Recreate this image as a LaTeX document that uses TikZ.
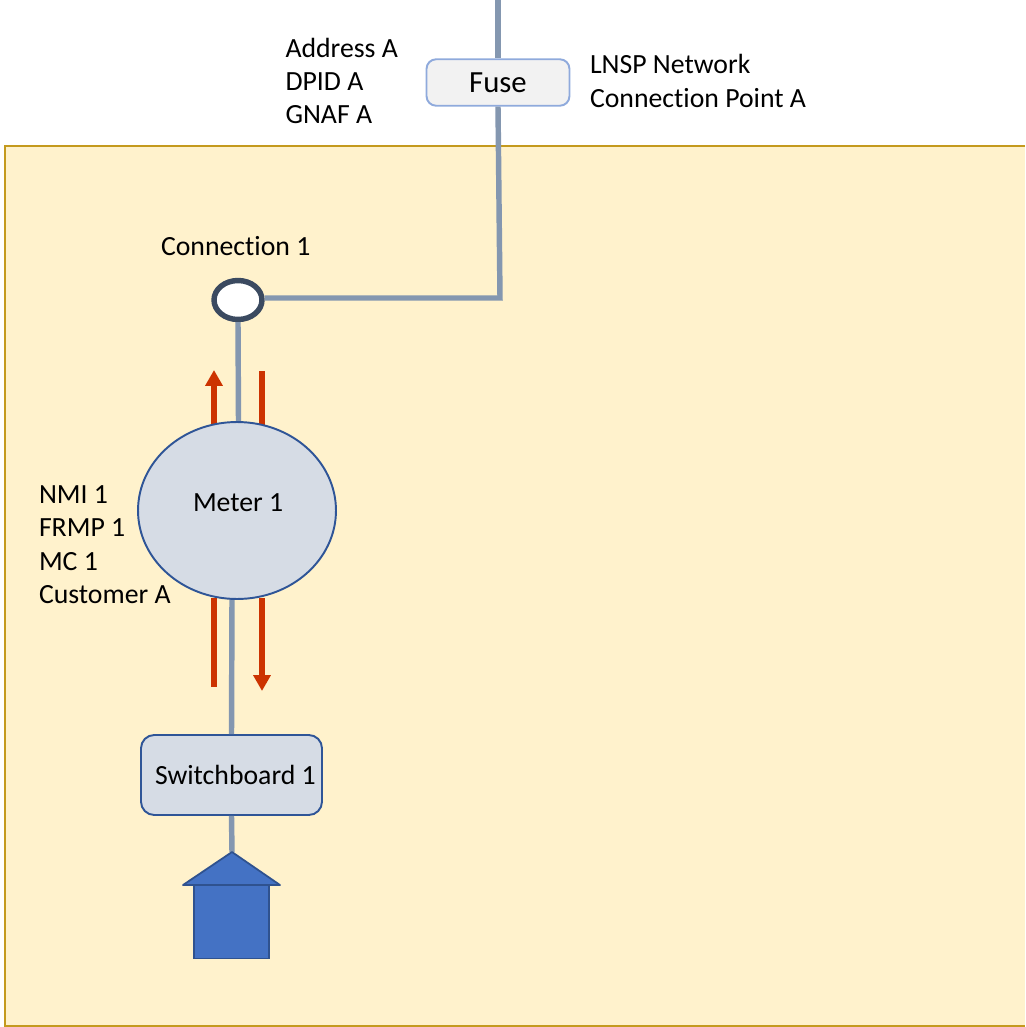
\documentclass[tikz,border=0pt]{standalone}
\usepackage{fontspec}
\setmainfont[Ligatures=NoCommon]{Carlito}
\usetikzlibrary{shapes.geometric,arrows.meta}

\definecolor{yardfill}{HTML}{FFF2CC}
\definecolor{yardline}{HTML}{C49A1E}
\definecolor{wire}{HTML}{8497B0}
\definecolor{connline}{HTML}{3B4A60}
\definecolor{boxfill}{HTML}{D6DCE5}
\definecolor{boxline}{HTML}{2F5597}
\definecolor{fuseline}{HTML}{8FAADC}
\definecolor{flow}{HTML}{CC3300}
\definecolor{housefill}{HTML}{4472C4}
\definecolor{houseline}{HTML}{2F528F}

\tikzset{
  wireline/.style={draw=wire, line width=3.1pt},
  flowline/.style={draw=flow, line width=3.1pt},
  flowarrow/.style={flowline, -{Triangle[length=9pt,width=9.5pt]}},
  txt/.style={inner sep=0pt, outer sep=0pt, align=left, anchor=west,
    font=\fontsize{15.8}{19}\selectfont},
}

\begin{document}
\begin{tikzpicture}[x=0.02cm, y=-0.02cm]
    \useasboundingbox (0,0) rectangle (1025,1027);

    \fill[yardfill] (5,146) rectangle (1025,1026);
    \draw[yardline, line width=1.2pt] (1025,146) -- (5,146) -- (5,1026) -- (1025,1026);

    \coordinate (top) at (498,0);
    \coordinate (corner) at (500,298);
    \coordinate (roof) at (232,852);
    \coordinate (meterin) at (238.5,422);
    \coordinate (meterout) at (232,599);

    \node[ellipse, draw=connline, fill=white, line width=3.1pt, inner sep=0pt,
      minimum width=0.96cm, minimum height=0.78cm] (conn) at (238,300) {};
    \node[rectangle, rounded corners=5.5pt, draw=fuseline, fill=black!5, line width=1.1pt,
      minimum width=2.86cm, minimum height=0.93cm, font=\fontsize{17.5}{21}\selectfont] (fuse) at (498,82.5) {Fuse};
    \node[rectangle, rounded corners=7.5pt, draw=boxline, fill=boxfill, line width=1.1pt,
      minimum width=3.62cm, minimum height=1.6cm] (switchboard) at (231.5,775) {};

    \draw[wireline] (top) -- (fuse.north);
    \draw[wireline] (fuse.south) -- (corner) -- (conn.east |- corner);
    \draw[wireline] (conn.south) -- (meterin);
    \draw[wireline] (meterout) -- (switchboard.north);
    \draw[wireline] (switchboard.south) -- (roof);

    \coordinate (upa) at (214,425);
    \coordinate (upb) at (214,370);
    \coordinate (upc) at (262,425);
    \coordinate (upd) at (262,371);
    \coordinate (downa) at (214,598);
    \coordinate (downb) at (214,687);
    \coordinate (downc) at (262,598);
    \coordinate (downd) at (262,691);
    \draw[flowarrow] (upa) -- (upb);
    \draw[flowline] (upc) -- (upd);
    \draw[flowline] (downa) -- (downb);
    \draw[flowarrow] (downc) -- (downd);

    \node[ellipse, draw=boxline, fill=boxfill, line width=1.1pt, inner sep=0pt,
      minimum width=3.96cm, minimum height=3.54cm] (meter) at (237,510.5) {};

    % house
    \node[rectangle, draw=houseline, fill=housefill, line width=1pt, inner sep=0pt,
      minimum width=1.5cm, minimum height=1.46cm] (house) at (231.5,922) {};
    \draw[houseline, fill=housefill, line width=1pt, line join=round]
      (roof) -- (280,885) -- (183,885) -- cycle;

    \node[txt] (address) at (285.5,81) {Address A\\DPID A\\GNAF A};
    \node[txt] (lnsp) at (590,81) {LNSP Network\\Connection Point A};
    \node[txt] (connlabel) at (161,246) {Connection 1};
    \node[txt] (meterlabel) at (193,503) {Meter 1};
    \node[txt] (nmi) at (39,544.5) {NMI 1\\FRMP 1\\MC 1\\Customer A};
    \node[txt] (boardlabel) at (155,775) {Switchboard 1};
  \end{tikzpicture}
\end{document}
